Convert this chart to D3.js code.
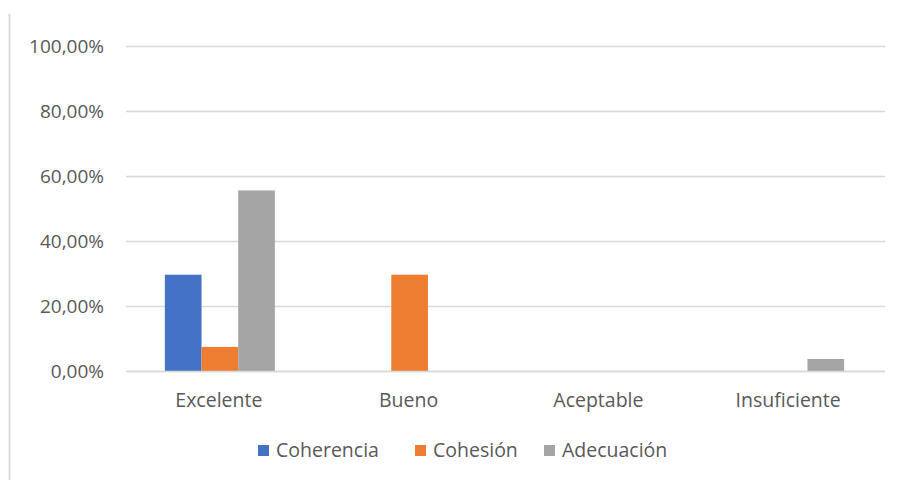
<!DOCTYPE html>
<html>
<head>
<meta charset="utf-8">
<script src="https://cdn.jsdelivr.net/npm/d3@7/dist/d3.min.js"></script>
<style>
  html, body { margin: 0; padding: 0; background: #fff; }
  svg text { font-family: "Open Sans", "Noto Sans", sans-serif; fill: #595959; }
</style>
</head>
<body>
<svg id="chart" width="900" height="480"></svg>
<script>
// Nivel de desempeño por criterio
const categories = ["Excelente", "Bueno", "Aceptable", "Insuficiente"];
const seriesNames = ["Coherencia", "Cohesión", "Adecuación"];
const coherencia = [0.2963, 0, 0, 0];
const cohesion   = [0.0741, 0.2963, 0, 0];
const adecuacion = [0.5556, 0, 0, 0.0370];
const yTicks = [0, 0.2, 0.4, 0.6, 0.8, 1.0];
const colors = ["#4472C4", "#ED7D31", "#A5A5A5"];

const seriesValues = [coherencia, cohesion, adecuacion];
const rows = categories.map((c, i) => ({
  category: c,
  values: seriesNames.map((s, j) => ({ series: s, idx: j, value: seriesValues[j][i] }))
}));

const svg = d3.select("#chart");

// left border of the chart frame
svg.append("line")
  .attr("x1", 9.5).attr("x2", 9.5)
  .attr("y1", 14).attr("y2", 480)
  .attr("stroke", "#d9d9d9").attr("stroke-width", 2);

const plot = { left: 126, right: 885, top: 46, bottom: 371 };

const x = d3.scaleBand().domain(categories).range([plot.left, plot.right]).paddingInner(0).paddingOuter(0);
const groupWidth = 110;
const xs = d3.scaleBand().domain(seriesNames).range([0, groupWidth]).padding(0);
const y = d3.scaleLinear().domain([0, 1]).range([plot.bottom, plot.top]);

const fmt = v => d3.format(".2f")(v * 100).replace(".", ",") + "%";

// gridlines
svg.append("g")
  .selectAll("line")
  .data(yTicks)
  .join("line")
  .attr("x1", plot.left).attr("x2", plot.right)
  .attr("y1", d => Math.round(y(d)) + 0.5).attr("y2", d => Math.round(y(d)) + 0.5)
  .attr("stroke", "#d9d9d9").attr("stroke-width", 1.5);

// y axis labels
svg.append("g")
  .selectAll("text")
  .data(yTicks)
  .join("text")
  .attr("x", 104)
  .attr("y", d => y(d))
  .attr("dy", "0.35em")
  .attr("text-anchor", "end")
  .style("font-size", "19px")
  .text(fmt);

// bars
const groups = svg.append("g")
  .selectAll("g")
  .data(rows)
  .join("g")
  .attr("transform", d => `translate(${x(d.category) + x.bandwidth() / 2 - groupWidth / 2 - 1},0)`);

groups.selectAll("rect")
  .data(d => d.values.filter(v => v.value > 0))
  .join("rect")
  .attr("x", d => xs(d.series))
  .attr("width", xs.bandwidth())
  .attr("y", d => y(d.value))
  .attr("height", d => y(0) - y(d.value))
  .attr("fill", d => colors[d.idx]);

// baseline drawn over bars
svg.append("line")
  .attr("x1", plot.left).attr("x2", plot.right)
  .attr("y1", Math.round(y(0)) + 0.5).attr("y2", Math.round(y(0)) + 0.5)
  .attr("stroke", "#d9d9d9").attr("stroke-width", 1.5);

// category labels
svg.append("g")
  .selectAll("text")
  .data(categories)
  .join("text")
  .attr("x", d => x(d) + x.bandwidth() / 2 - 2)
  .attr("y", 400)
  .attr("dy", "0.35em")
  .attr("text-anchor", "middle")
  .style("font-size", "19.5px")
  .text(d => d);

// legend
const legendX = [258, 415, 544];
const legend = svg.append("g")
  .selectAll("g")
  .data(seriesNames)
  .join("g")
  .attr("transform", (d, i) => `translate(${legendX[i]},450.5)`);
legend.append("rect")
  .attr("x", 0).attr("y", -5.5).attr("width", 11).attr("height", 11)
  .attr("fill", (d, i) => colors[i]);
legend.append("text")
  .attr("x", 18).attr("y", 0).attr("dy", "0.35em")
  .style("font-size", "19.5px")
  .text(d => d);
</script>
</body>
</html>
